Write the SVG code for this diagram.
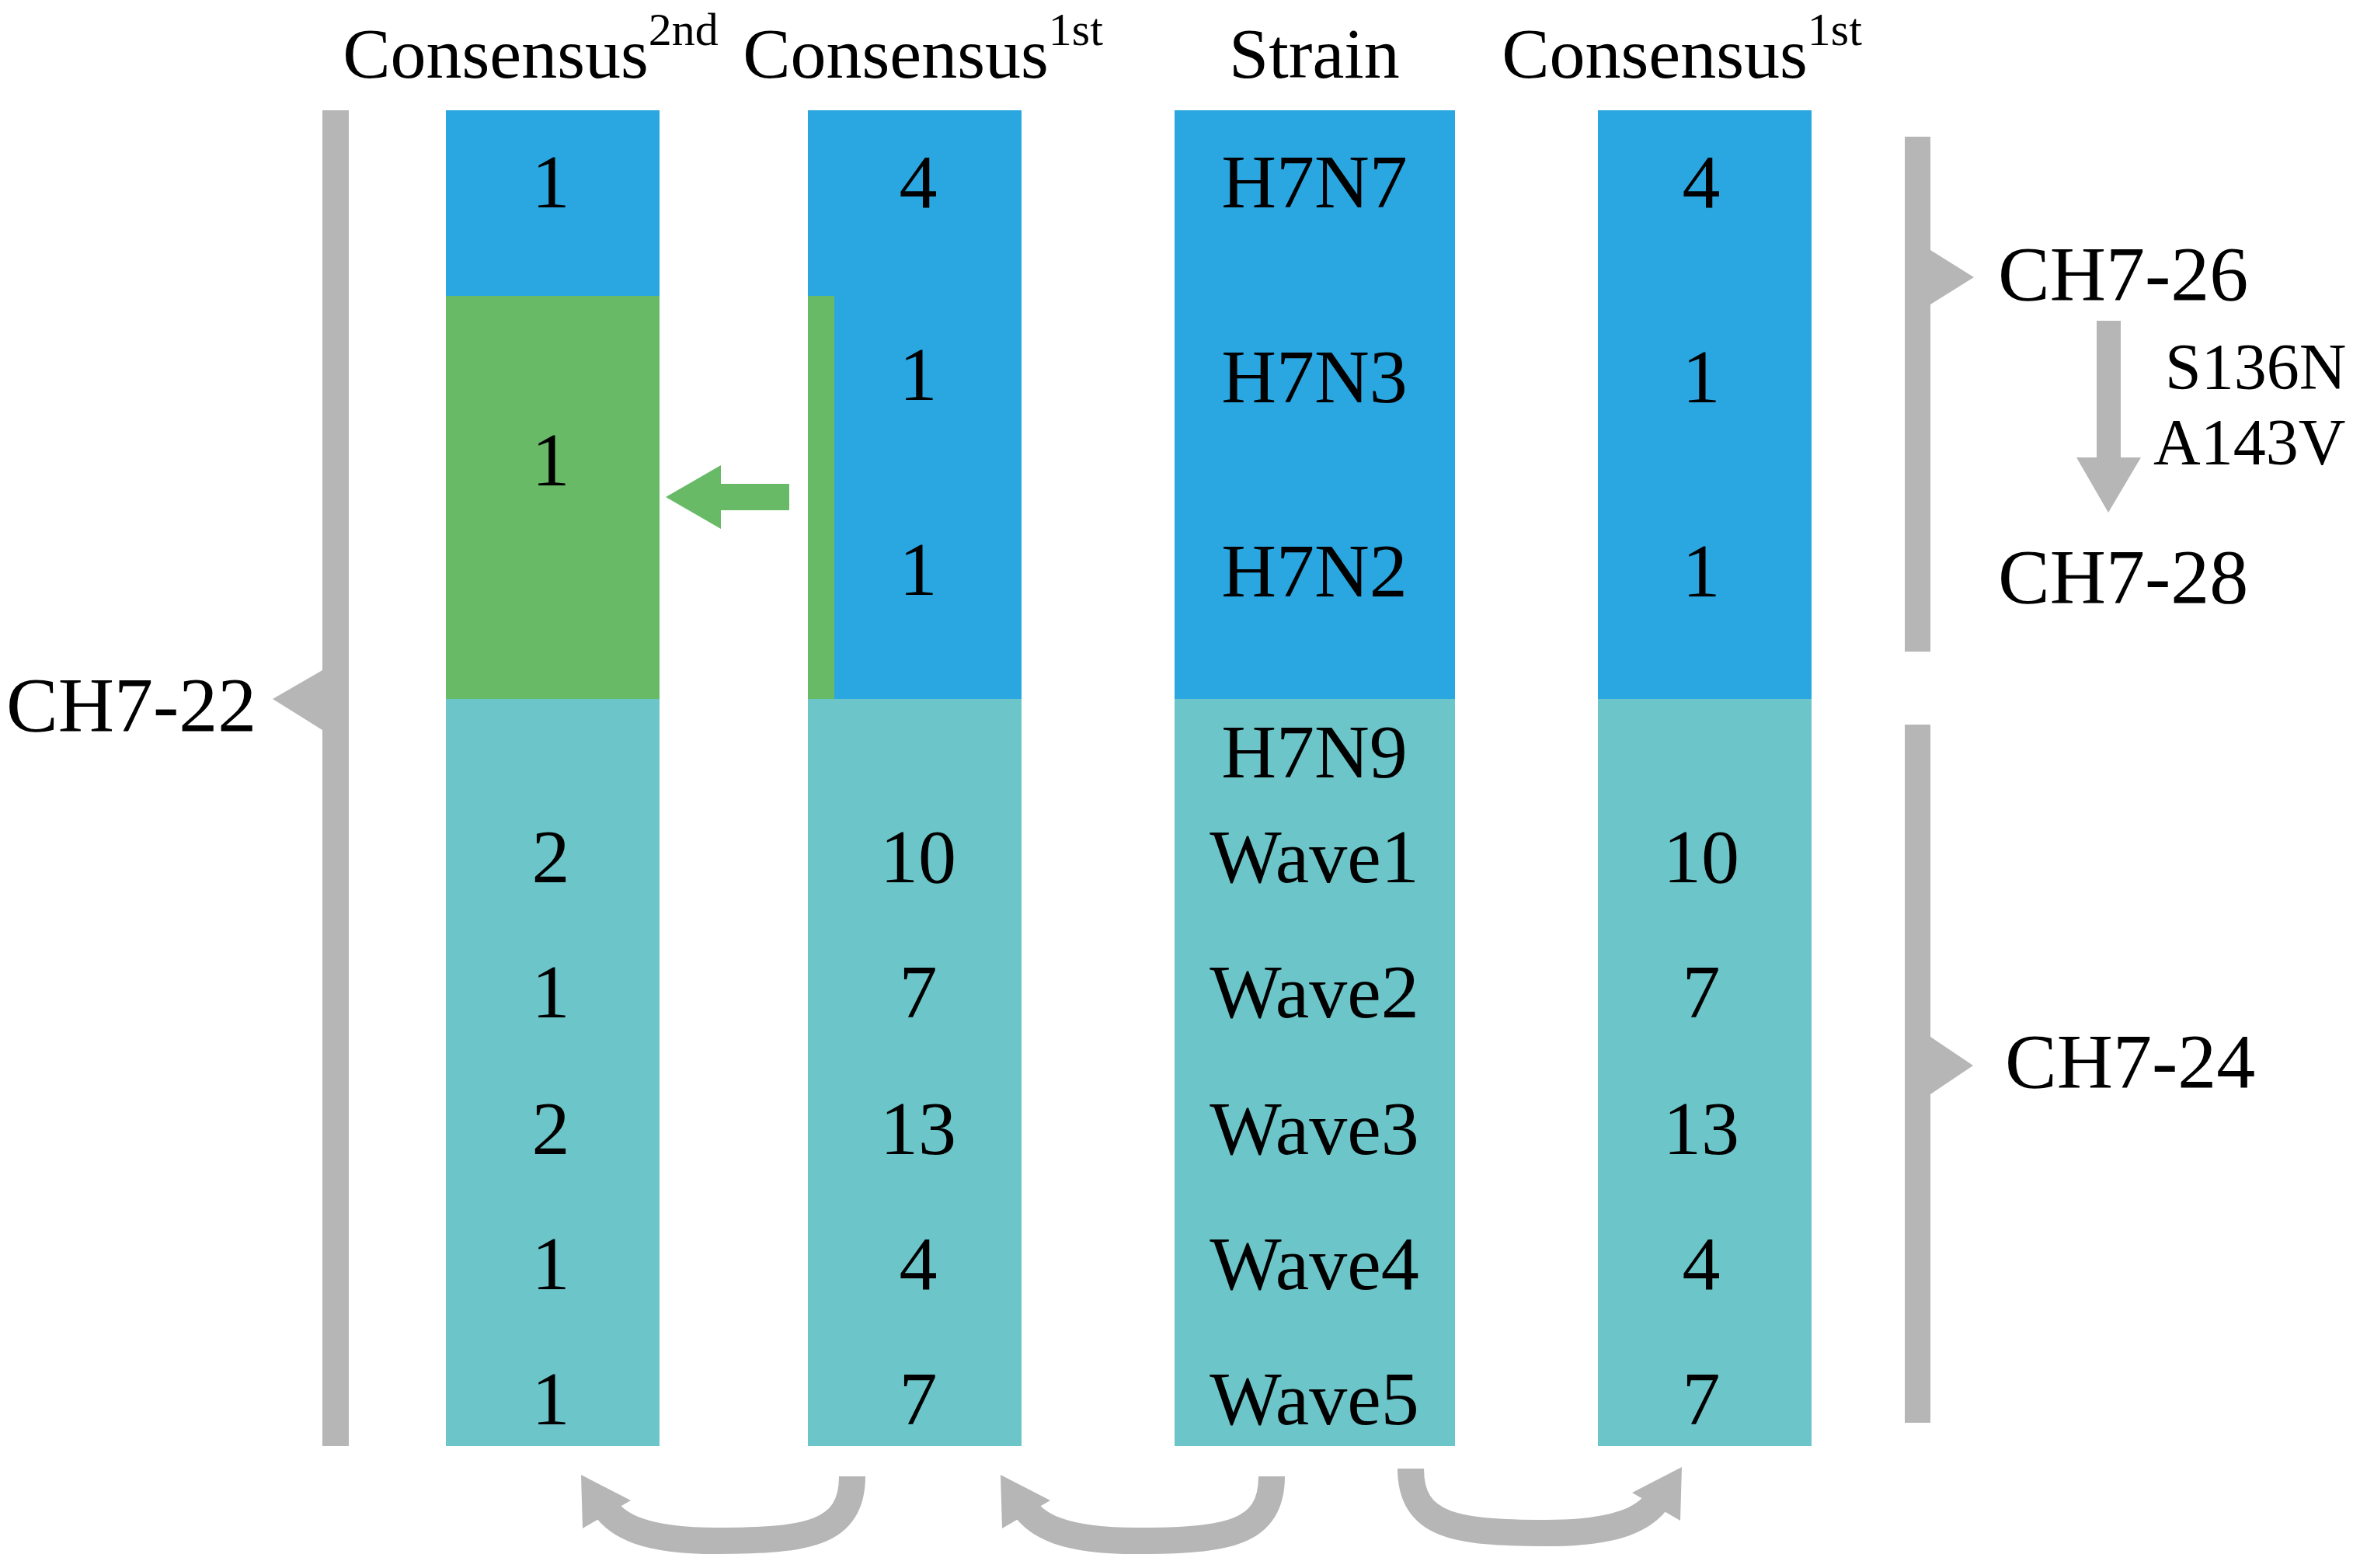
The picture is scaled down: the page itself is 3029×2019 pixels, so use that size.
<svg xmlns="http://www.w3.org/2000/svg" width="3029" height="2019" viewBox="0 0 3029 2019">
<style>
text{font-family:"Liberation Serif","Times New Roman",serif;fill:#000;text-anchor:middle}
.h{font-size:92px}.s{font-size:60px}.v{font-size:98px}.l{font-size:100px;text-anchor:start}.m{font-size:84px;text-anchor:start}
.b{fill:#2AA6E0}.g{fill:#69BA67}.t{fill:#6CC5C9}.gr{fill:#B5B6B5}
</style>
<rect width="3029" height="2019" fill="#fff"/>
<g id="headers">
<text class="h" x="683" y="100">Consensus<tspan class="s" dy="-42">2nd</tspan></text>
<text class="h" x="1188" y="100">Consensus<tspan class="s" dy="-42">1st</tspan></text>
<text class="h" x="1692" y="100">Strain</text>
<text class="h" x="2165" y="100">Consensus<tspan class="s" dy="-42">1st</tspan></text>
</g>
<g id="col1">
<rect class="b" x="574" y="142" width="275" height="240"/>
<rect class="g" x="574" y="381" width="275" height="520"/>
<rect class="t" x="574" y="900" width="275" height="962"/>
<text class="v" x="709" y="267">1</text><text class="v" x="709" y="625">1</text>
<text class="v" x="709" y="1136">2</text><text class="v" x="709" y="1310">1</text><text class="v" x="709" y="1486">2</text><text class="v" x="709" y="1660">1</text><text class="v" x="709" y="1834">1</text>
</g>
<g id="col2">
<rect class="b" x="1040" y="142" width="275" height="759"/>
<rect class="g" x="1040" y="381" width="34" height="520"/>
<rect class="t" x="1040" y="900" width="275" height="962"/>
<text class="v" x="1182" y="267">4</text><text class="v" x="1182" y="515">1</text><text class="v" x="1182" y="766">1</text>
<text class="v" x="1182" y="1136">10</text><text class="v" x="1182" y="1310">7</text><text class="v" x="1182" y="1486">13</text><text class="v" x="1182" y="1660">4</text><text class="v" x="1182" y="1834">7</text>
</g>
<g id="col3">
<rect class="b" x="1512" y="142" width="361" height="759"/>
<rect class="t" x="1512" y="900" width="361" height="962"/>
<text class="v" x="1692" y="267">H7N7</text><text class="v" x="1692" y="518">H7N3</text><text class="v" x="1692" y="768">H7N2</text>
<text class="v" x="1692" y="1001">H7N9</text><text class="v" x="1692" y="1136">Wave1</text><text class="v" x="1692" y="1310">Wave2</text><text class="v" x="1692" y="1486">Wave3</text><text class="v" x="1692" y="1660">Wave4</text><text class="v" x="1692" y="1834">Wave5</text>
</g>
<g id="col4">
<rect class="b" x="2057" y="142" width="275" height="759"/>
<rect class="t" x="2057" y="900" width="275" height="962"/>
<text class="v" x="2190" y="267">4</text><text class="v" x="2190" y="518">1</text><text class="v" x="2190" y="768">1</text>
<text class="v" x="2190" y="1136">10</text><text class="v" x="2190" y="1310">7</text><text class="v" x="2190" y="1486">13</text><text class="v" x="2190" y="1660">4</text><text class="v" x="2190" y="1834">7</text>
</g>
<g id="brackets">
<rect class="gr" x="415" y="142" width="34" height="1720"/>
<polygon class="gr" points="351,900 415,863 415,940"/>
<text class="l" x="8" y="941">CH7-22</text>
<rect class="gr" x="2452" y="176" width="33" height="663"/>
<polygon class="gr" points="2541,357 2485,322 2485,392"/>
<text class="l" x="2572" y="386">CH7-26</text>
<text class="l" x="2572" y="776">CH7-28</text>
<text class="m" x="2787" y="501">S136N</text>
<text class="m" x="2772" y="598">A143V</text>
<rect class="gr" x="2452" y="933" width="33" height="899"/>
<polygon class="gr" points="2540,1372 2485,1335 2485,1409"/>
<text class="l" x="2581" y="1400">CH7-24</text>
</g>
<g id="connectors">
<polygon class="g" points="857,640 928,599 928,623 1016,623 1016,657 928,657 928,681"/>
<polygon class="gr" points="2699,413 2730,413 2730,589 2756,589 2714,660 2673,589 2699,589"/>
<g fill="none" stroke="#B5B6B5" stroke-width="34">
<path d="M1097,1901 C1097,1975 1040,1984 922,1984 C830,1984 795,1965 778,1940"/>
<path d="M1637,1901 C1637,1975 1580,1984 1462,1984 C1370,1984 1335,1965 1318,1940"/>
<path d="M1816,1891 C1816,1965 1873,1974 1991,1974 C2083,1974 2118,1955 2135,1930"/>
</g>
<polygon class="gr" points="748,1899 812,1932 750,1968"/>
<polygon class="gr" points="1288,1899 1352,1932 1290,1968"/>
<polygon class="gr" points="2165,1889 2101,1922 2163,1958"/>
</g>
</svg>
